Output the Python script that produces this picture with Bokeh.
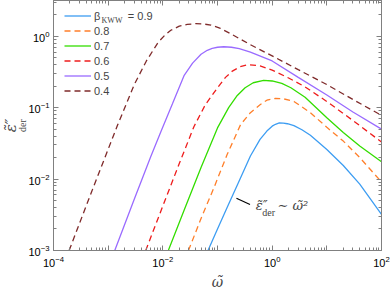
import math
from bokeh.plotting import figure
from bokeh.models import (LogAxis, FixedTicker, Legend, LegendItem, Label, Title,
                          CustomJSTickFormatter, Range1d)
from bokeh.embed import file_html
from bokeh.resources import INLINE

# ---- data ----
beta_labels = ["0.9", "0.8", "0.7", "0.6", "0.5", "0.4"]

w_09 = [0.067, 0.1, 0.15, 0.25, 0.4, 0.6, 0.8, 1.0, 1.15, 1.35, 1.6, 1.9, 2.5, 3.5, 5.0, 10,
        20, 40, 100]
e_09 = [1.0e-3, 2.0e-3, 4.0e-3, 9.5e-3, 0.021, 0.036, 0.047, 0.055, 0.0585, 0.061, 0.0608,
        0.0595, 0.056, 0.049, 0.041, 0.026, 0.0155, 0.0085, 0.0032]

w_08 = [0.0294, 0.05, 0.0863, 0.15, 0.265, 0.4, 0.6, 0.8, 1.15, 1.6, 2.5, 5, 10, 20, 40, 100]
e_08 = [1.0e-3, 2.8e-3, 7.6e-3, 0.022, 0.058, 0.085, 0.11, 0.127, 0.135, 0.133, 0.122,
        0.085, 0.053, 0.034, 0.020, 0.0091]

w_07 = [0.0126, 0.025, 0.05, 0.1, 0.16, 0.23, 0.32, 0.45, 0.7, 1.0, 1.5, 2.2, 4, 10, 20, 40, 100]
e_07 = [1.0e-3, 3.8e-3, 0.0145, 0.052, 0.10, 0.148, 0.19, 0.223, 0.24, 0.236, 0.218, 0.19,
        0.14, 0.072, 0.045, 0.029, 0.0175]

w_06 = [4.86e-3, 0.01, 0.02, 0.037, 0.06, 0.1, 0.14, 0.187, 0.26, 0.37, 0.6, 1, 2, 4, 10, 30, 100]
e_06 = [1.0e-3, 4.2e-3, 0.0165, 0.054, 0.11, 0.19, 0.265, 0.325, 0.375, 0.40, 0.385, 0.335,
        0.26, 0.195, 0.122, 0.066, 0.033]

w_05 = [1.32e-3, 3e-3, 6e-3, 9.2e-3, 0.015, 0.0244, 0.035, 0.05, 0.065, 0.08, 0.1, 0.13,
        0.18, 0.25, 0.4, 1, 3, 10, 30, 100]
e_05 = [1.0e-3, 5.2e-3, 0.0205, 0.046, 0.113, 0.28, 0.42, 0.56, 0.635, 0.675, 0.70, 0.712,
        0.70, 0.67, 0.60, 0.45, 0.265, 0.150, 0.087, 0.050]

w_04 = [1.93e-4, 5e-4, 1.48e-3, 3e-3, 5e-3, 8.2e-3, 0.011, 0.014, 0.02, 0.028, 0.04, 0.056,
        0.076, 0.11, 0.175, 0.4, 1, 3, 10, 30, 100]
e_04 = [1.0e-3, 6.7e-3, 0.0565, 0.21, 0.45, 0.82, 1.04, 1.21, 1.38, 1.46, 1.50, 1.48,
        1.43, 1.30, 1.08, 0.76, 0.53, 0.34, 0.21, 0.13, 0.078]

x_major = [1e-4, 1e-3, 1e-2, 1e-1, 1e0, 1e1, 1e2]
y_major = [1e-3, 1e-2, 1e-1, 1e0]

series = [(w_09, e_09), (w_08, e_08), (w_07, e_07), (w_06, e_06), (w_05, e_05), (w_04, e_04)]
colors = ["#3d9df2", "#ff7f2a", "#33dd00", "#ee1c1c", "#9a6bff", "#7f2a2a"]
dashes = ["solid", "6 4", "solid", "6 4", "solid", "6 4"]

FL, FB = 53, 252  # page position of frame left / bottom (for screen-unit labels)

p = figure(x_axis_type="log", y_axis_type="log",
           x_range=Range1d(1e-4, 1e2), y_range=Range1d(1e-3, 3.16),
           frame_width=328, frame_height=250,
           min_border_left=53, min_border_right=10, min_border_top=0, min_border_bottom=0,
           output_backend="svg", toolbar_location=None)
p.grid.visible = False
p.outline_line_color = "#808080"
p.background_fill_color = "white"

bottom = p.below[0]
left = p.left[0]

x_minor = [k * 10.0 ** n for n in range(-4, 2) for k in range(2, 10)]
y_minor = [k * 10.0 ** n for n in range(-3, 1) for k in range(2, 10)]

top = LogAxis()
right = LogAxis()
p.add_layout(top, "above")
p.add_layout(right, "right")

xt = FixedTicker(ticks=x_major, minor_ticks=x_minor)
yt = FixedTicker(ticks=y_major, minor_ticks=y_minor)
bottom.ticker = xt
top.ticker = xt
left.ticker = yt
right.ticker = yt

blank = CustomJSTickFormatter(code="return ''")
top.formatter = blank
right.formatter = blank
top.major_label_standoff = 0
right.major_label_standoff = 0

bottom.major_label_overrides = {1e-3: "", 1e-1: "", 1e1: ""}

for ax in [bottom, left, top, right]:
    ax.axis_line_color = "#808080"
    ax.major_tick_line_color = "#808080"
    ax.minor_tick_line_color = "#808080"
    ax.major_tick_in = 5
    ax.major_tick_out = 0
    ax.minor_tick_in = 3
    ax.minor_tick_out = 0
    ax.major_label_text_font = "Liberation Sans"
    ax.major_label_text_font_size = "11px"
    ax.major_label_text_color = "black"

bottom.major_label_standoff = 5
left.major_label_standoff = 4
bottom.axis_label = "ω̃"
bottom.axis_label_text_font = "DejaVu Serif"
bottom.axis_label_text_font_style = "italic"
bottom.axis_label_text_font_size = "14px"
bottom.axis_label_standoff = 4

# y-axis label as two side titles: subscript next to the axis, symbol outside it
t_der = Title(text="der", align="center", offset=8, standoff=-4,
              text_font="Liberation Serif", text_font_style="normal", text_font_size="10px")
t_eps = Title(text="ε̃″", align="center", offset=-8, standoff=-6,
              text_font="DejaVu Serif", text_font_style="italic", text_font_size="15px")
p.add_layout(t_der, "left")
p.add_layout(t_eps, "left")

items = []
for (w, e), c, d, lab in zip(series, colors, dashes, beta_labels):
    r = p.line(w, e, line_color=c, line_width=1.3, line_dash=d)
    items.append((lab, r))

legend_labels = ["β         = " + items[0][0]] + [lab for lab, _ in items[1:]]
legend = Legend(items=[LegendItem(label=t, renderers=[r]) for t, (_, r) in zip(legend_labels, items)],
                location=(11, 152), glyph_width=27, glyph_height=15, label_height=15,
                spacing=0, padding=0, margin=0, border_line_color=None,
                background_fill_alpha=0, label_text_font="Liberation Sans",
                label_text_font_size="11px", label_standoff=3, label_text_baseline="middle")
p.add_layout(legend)

p.add_layout(Label(x=111.5 - FL, y=FB - 22, x_units="screen", y_units="screen", text="KWW",
                   text_font="Liberation Serif", text_font_size="8px",
                   text_align="center", text_baseline="middle"))

# annotation
p.segment(x0=[0.222], y0=[5.4e-3], x1=[0.393], y1=[4.4e-3], line_color="black", line_width=1.2)
p.add_layout(Label(x=0.499, y=4.3e-3, text="ε̃″", text_font="DejaVu Serif",
                   text_font_style="italic", text_font_size="13px", text_baseline="middle"))
p.add_layout(Label(x=0.66, y=3.4e-3, text="der", text_font="Liberation Serif",
                   text_font_size="10px", text_baseline="middle"))
p.add_layout(Label(x=1.25, y=4.3e-3, text="∼ ω̃²", text_font="DejaVu Serif",
                   text_font_style="italic", text_font_size="13px", text_baseline="middle"))

open("out.html", "w").write(file_html(p, INLINE))
